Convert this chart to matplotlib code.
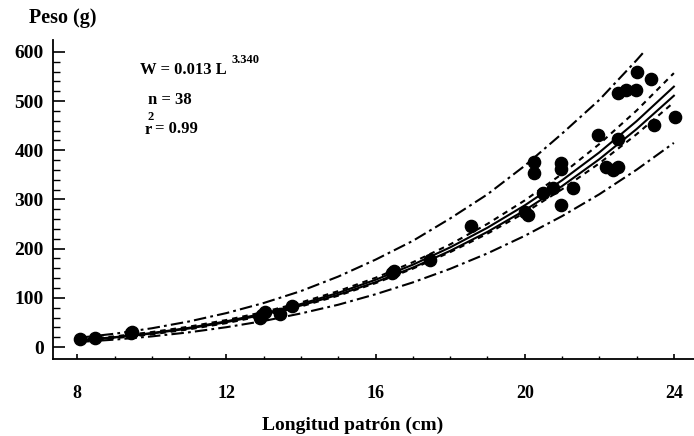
import numpy as np
import matplotlib.pyplot as plt

plt.rcParams['font.family'] = ['Liberation Serif', 'DejaVu Serif']
plt.rcParams['font.weight'] = 'bold'
plt.rcParams['lines.scale_dashes'] = False

# observed fish: standard length (cm) and weight (g)
length = [8.07, 8.48, 9.44, 9.47, 12.90, 12.96, 13.04, 13.44, 13.77, 16.45, 16.50,
          17.46, 18.56, 20.00, 20.09, 20.26, 20.26, 20.48, 20.75, 20.98, 20.98,
          20.98, 21.29, 21.96, 22.19, 22.37, 22.50, 22.50, 22.50, 22.72, 22.99,
          23.00, 23.40, 23.48, 24.02]
weight = [16, 18, 28, 31, 60, 66, 72, 67, 83, 151, 155,
          177, 246, 275, 268, 377, 353, 313, 323, 374, 362,
          289, 323, 431, 367, 360, 367, 424, 516, 523, 523,
          560, 546, 451, 467]

# curves read at every cm from 8 to 24
curve_L = [8, 9, 10, 11, 12, 13, 14, 15, 16, 17, 18, 19, 20, 21, 22, 23, 24]
fit = [13.5, 20.0, 28.4, 39.1, 52.3, 68.3, 87.5, 110.2, 136.7, 167.4, 202.6,
       242.6, 288.0, 339.0, 395.7, 459.3, 529.5]
fit2 = [13.0, 19.3, 27.4, 37.7, 50.5, 65.9, 84.4, 106.3, 131.9, 161.5, 195.5,
        234.1, 277.9, 327.1, 381.9, 443.2, 511.0]
conf_up = [14.9, 21.7, 30.4, 41.4, 54.9, 71.2, 90.6, 113.7, 140.8, 172.4, 208.7,
           250.4, 298.1, 351.9, 412.7, 480.9, 557.0]
conf_lo = [11.9, 17.9, 25.8, 36.0, 48.6, 64.0, 82.5, 104.4, 129.9, 159.4, 192.9,
           230.5, 273.0, 320.7, 373.5, 432.7, 497.7]
pred_lo = [10.0, 15.0, 21.6, 29.9, 40.3, 52.9, 68.3, 86.0, 107.3, 131.4, 159.0,
           190.4, 226.1, 266.1, 310.6, 360.5, 415.1]
# upper prediction line stops at 23.2 cm
pred_up_L = [8, 9, 10, 11, 12, 13, 14, 15, 16, 17, 18, 19, 20, 21, 22, 23, 23.2]
pred_up = [18.4, 27.0, 38.1, 52.0, 69.0, 89.5, 113.8, 143.3, 177.7, 215.9, 261.4,
           310.5, 368.6, 433.9, 502.5, 583.3, 600.5]

fig = plt.figure(figsize=(6.94, 4.36), dpi=100)
ax = fig.add_axes([0.0768, 0.1766, 0.9232, 0.7317])

dashdot = (0, (9, 3, 2, 3))
dashed = (0, (4, 3.5))
lw = 1.5
ax.plot(pred_up_L, pred_up, color='k', lw=lw, linestyle=dashdot)
ax.plot(curve_L, pred_lo, color='k', lw=lw, linestyle=dashdot)
ax.plot(curve_L, conf_up, color='k', lw=lw, linestyle=dashed)
ax.plot(curve_L, conf_lo, color='k', lw=lw, linestyle=dashed)
ax.plot(curve_L, fit, color='k', lw=lw)
ax.plot(curve_L, fit2, color='k', lw=lw)
ax.plot(length, weight, 'o', color='k', ms=8.8, zorder=5)

ax.set_xlim(7.356, 24.54)
ax.set_ylim(-24.4, 624.4)
ax.set_xticks([8, 12, 16, 20, 24])
ax.set_xticks(np.arange(8, 25, 1), minor=True)
ax.set_yticks([0, 100, 200, 300, 400, 500, 600])
ax.set_yticks(np.arange(0, 620, 20), minor=True)

for s in ['top', 'right']:
    ax.spines[s].set_visible(False)
for s in ['left', 'bottom']:
    ax.spines[s].set_linewidth(1.3)

ax.tick_params(axis='y', which='major', direction='in', length=8.6, width=1.2,
               pad=7, labelsize=14)
ax.tick_params(axis='y', which='minor', direction='in', length=5, width=1.0)
ax.tick_params(axis='x', which='major', direction='in', length=3.6, width=1.2,
               pad=19, labelsize=13)
ax.tick_params(axis='x', which='minor', direction='in', length=2, width=1.0)
for lab in ax.get_xticklabels() + ax.get_yticklabels():
    lab.set_fontweight('bold')

fig.text(63 / 694, 1 - 18 / 436, 'Peso (g)', fontsize=14.5, fontweight='bold',
         ha='center', va='center')
fig.text(353 / 694, 1 - 425 / 436, 'Longitud patrón (cm)', fontsize=14,
         fontweight='bold', ha='center', va='center')

# equation text
fig.text(140 / 694, 1 - 70 / 436, 'W = 0.013 L', fontsize=12, fontweight='bold',
         ha='left', va='center')
fig.text(232 / 694, 1 - 60 / 436, '3.340', fontsize=9, fontweight='bold',
         ha='left', va='center')
fig.text(148 / 694, 1 - 100 / 436, 'n = 38', fontsize=12, fontweight='bold',
         ha='left', va='center')
fig.text(145 / 694, 1 - 130 / 436, 'r', fontsize=12, fontweight='bold',
         ha='left', va='center')
fig.text(147 / 694, 1 - 117 / 436, '2', fontsize=9, fontweight='bold',
         ha='left', va='center')
fig.text(155 / 694, 1 - 129 / 436, '= 0.99', fontsize=12, fontweight='bold',
         ha='left', va='center')

fig.savefig('out.png', dpi=100)
